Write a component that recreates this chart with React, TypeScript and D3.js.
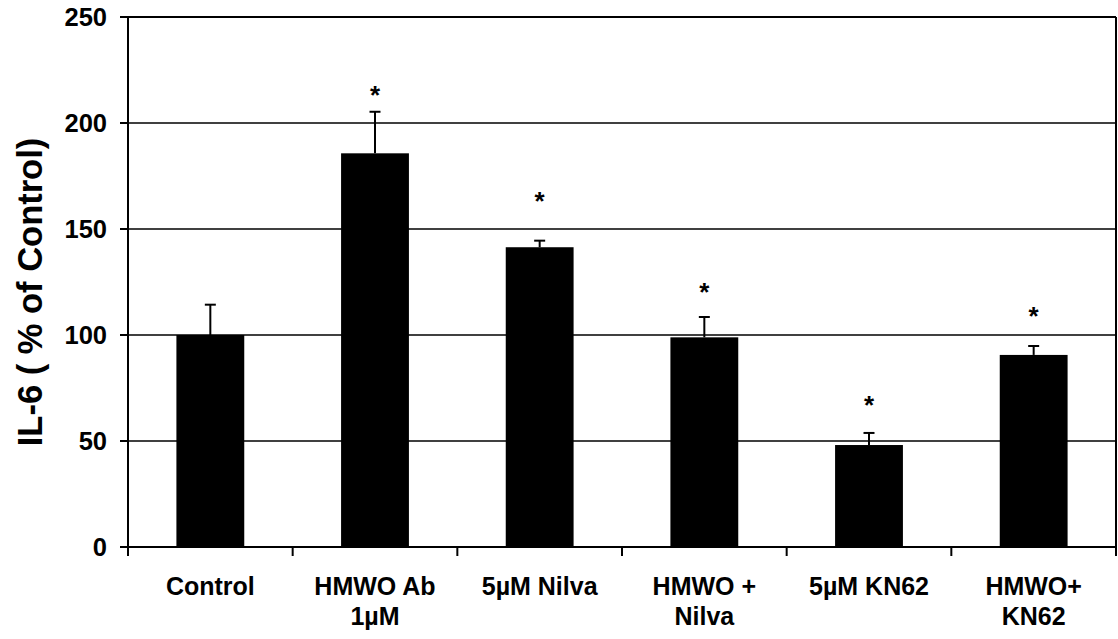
import React from "react";
import * as d3 from "d3";

// IL-6 release per treatment, expressed as % of control
const categories: string[][] = [
  ["Control"],
  ["HMWO Ab", "1µM"],
  ["5µM Nilva"],
  ["HMWO +", "Nilva"],
  ["5µM KN62"],
  ["HMWO+", "KN62"],
];
const means: number[] = [100, 185.7, 141.4, 98.9, 48.1, 90.6];
const errors: number[] = [14.3, 19.6, 3.1, 9.6, 5.7, 4.2];
// Height (in % units) at which the significance asterisk sits; null = none
const starLevels: (number | null)[] = [null, 216, 166, 123, 70, 112];
const yTicks: number[] = [0, 50, 100, 150, 200, 250];

const W = 1118;
const H = 639;
const margin = { left: 128, right: 2, top: 17, bottom: 92 };
const FONT = "'Liberation Sans', Arial, Helvetica, sans-serif";

export default function App() {
  const x = d3
    .scaleBand<number>()
    .domain(d3.range(categories.length))
    .range([margin.left, W - margin.right])
    .paddingInner(0.588)
    .paddingOuter(0.294);
  const y = d3
    .scaleLinear()
    .domain([0, 250])
    .range([H - margin.bottom, margin.top]);

  const x0 = margin.left;
  const x1 = W - margin.right;
  const yBase = y(0);
  const boundaries = d3
    .range(categories.length + 1)
    .map((i) => x0 + i * ((x1 - x0) / categories.length));
  const capHalf = 5.5;

  return (
    <svg
      width={W}
      height={H}
      style={{ position: "absolute", left: 0, top: 0, background: "#fff" }}
      fontFamily={FONT}
    >
      {/* horizontal gridlines */}
      {yTicks
        .filter((t) => t > 0 && t < 250)
        .map((t) => (
          <line key={"g" + t} x1={x0} x2={x1} y1={y(t)} y2={y(t)} stroke="#000" strokeWidth={1.5} />
        ))}

      {/* bars */}
      {means.map((v, i) => (
        <rect key={"b" + i} x={x(i)!} y={y(v)} width={x.bandwidth()} height={yBase - y(v)} fill="#000" />
      ))}

      {/* error bars (upper only) */}
      {means.map((v, i) => {
        const cx = x(i)! + x.bandwidth() / 2;
        const top = y(v + errors[i]);
        return (
          <g key={"e" + i} stroke="#000" strokeWidth={2}>
            <line x1={cx} x2={cx} y1={y(v)} y2={top} />
            <line x1={cx - capHalf} x2={cx + capHalf} y1={top} y2={top} />
          </g>
        );
      })}

      {/* significance markers */}
      {starLevels.map((s, i) =>
        s == null ? null : (
          <text
            key={"s" + i}
            x={x(i)! + x.bandwidth() / 2}
            y={y(s) + 15}
            textAnchor="middle"
            fontSize={26}
            fontWeight="bold"
          >
            *
          </text>
        )
      )}

      {/* plot frame: top and right borders */}
      <line x1={x0} x2={x1} y1={y(250)} y2={y(250)} stroke="#000" strokeWidth={2} />
      <line x1={x1} x2={x1} y1={y(250)} y2={yBase + 9} stroke="#000" strokeWidth={2} />

      {/* y axis */}
      <line x1={x0} x2={x0} y1={y(250)} y2={yBase + 9} stroke="#000" strokeWidth={2} />
      {yTicks.map((t) => (
        <g key={"yt" + t}>
          <line x1={x0 - 8} x2={x0} y1={y(t)} y2={y(t)} stroke="#000" strokeWidth={2} />
          <text x={107} y={y(t) + 9} textAnchor="end" fontSize={25.5} fontWeight="bold">
            {t}
          </text>
        </g>
      ))}

      {/* x axis */}
      <line x1={x0} x2={x1} y1={yBase} y2={yBase} stroke="#000" strokeWidth={2} />
      {boundaries.map((bx, i) => (
        <line key={"xt" + i} x1={bx} x2={bx} y1={yBase} y2={yBase + 9} stroke="#000" strokeWidth={2} />
      ))}
      {categories.map((lines, i) => (
        <text
          key={"xl" + i}
          x={x(i)! + x.bandwidth() / 2}
          y={595}
          textAnchor="middle"
          fontSize={25}
          fontWeight="bold"
        >
          {lines.map((ln, j) => (
            <tspan key={j} x={x(i)! + x.bandwidth() / 2} dy={j === 0 ? 0 : 30}>
              {ln}
            </tspan>
          ))}
        </text>
      ))}

      {/* y axis title */}
      <text
        transform="translate(42, 292) rotate(-90)"
        textAnchor="middle"
        fontSize={34.5}
        fontWeight="bold"
      >
        IL-6 ( % of Control)
      </text>
    </svg>
  );
}
